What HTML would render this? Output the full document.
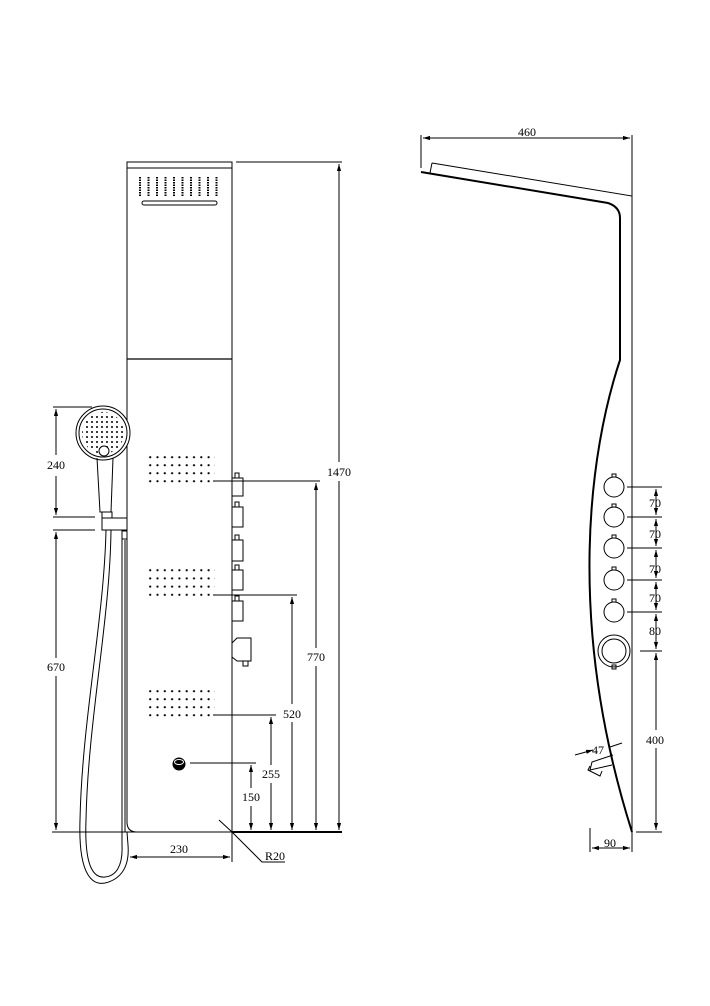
<!DOCTYPE html>
<html><head><meta charset="utf-8"><style>
html,body{margin:0;padding:0;background:#fff;}
svg{display:block}
text{font-family:"Liberation Serif",serif;font-size:12px;}
</style></head><body>
<svg width="710" height="1006" viewBox="0 0 710 1006" xmlns="http://www.w3.org/2000/svg">
<defs>
<marker id="a" viewBox="0 0 10 10" refX="10" refY="5" markerWidth="7" markerHeight="7" orient="auto-start-reverse"><path d="M0,2 L10,5 L0,8z" fill="#000"/></marker>
<pattern id="d1" x="149" y="456" width="7.3" height="8" patternUnits="userSpaceOnUse"><circle cx="1.2" cy="1.2" r="1.1" fill="#000"/></pattern>
<pattern id="d2" x="149" y="569" width="7.3" height="8.2" patternUnits="userSpaceOnUse"><circle cx="1.2" cy="1.2" r="1.1" fill="#000"/></pattern>
<pattern id="d3" x="149" y="690" width="7.3" height="8" patternUnits="userSpaceOnUse"><circle cx="1.2" cy="1.2" r="1.1" fill="#000"/></pattern>
<pattern id="d4" x="80" y="410" width="5" height="5" patternUnits="userSpaceOnUse"><circle cx="2" cy="2" r="1" fill="#000"/></pattern>
<clipPath id="hc"><circle cx="103" cy="433" r="21"/></clipPath>
</defs>
<rect x="149" y="456" width="66" height="30" fill="url(#d1)"/>
<rect x="149" y="569" width="66" height="30" fill="url(#d2)"/>
<rect x="149" y="690" width="66" height="30" fill="url(#d3)"/>
<g stroke="#000" fill="none" stroke-width="1">
<!-- panel front -->
<path d="M127,162 H232 V832 H137 Q127,832 127,822 Z"/>
<line x1="127" y1="168" x2="232" y2="168"/>
<line x1="127" y1="359" x2="232" y2="359" stroke-width="1.3"/>
<g stroke-width="2" stroke-dasharray="1.5,1">
<line x1="140" y1="177" x2="140" y2="196"/><line x1="148.5" y1="177" x2="148.5" y2="196"/><line x1="157" y1="177" x2="157" y2="196"/><line x1="165.5" y1="177" x2="165.5" y2="196"/><line x1="174" y1="177" x2="174" y2="196"/><line x1="182.5" y1="177" x2="182.5" y2="196"/><line x1="191" y1="177" x2="191" y2="196"/><line x1="199.5" y1="177" x2="199.5" y2="196"/><line x1="208" y1="177" x2="208" y2="196"/><line x1="216.5" y1="177" x2="216.5" y2="196"/>
</g>
<rect x="142" y="201" width="75" height="4" rx="2"/>
<!-- knobs -->
<rect x="232" y="478" width="11" height="18"/><rect x="235" y="473" width="4" height="5"/>
<rect x="232" y="507" width="11" height="20"/><rect x="235" y="502" width="4" height="5"/>
<rect x="232" y="540" width="11" height="21"/><rect x="235" y="535" width="4" height="5"/>
<rect x="232" y="570" width="11" height="20"/><rect x="235" y="565" width="4" height="5"/>
<rect x="232" y="601" width="11" height="20"/><rect x="235" y="596" width="4" height="5"/>
<path d="M232,643 L237,638 H251 V661 H237 L232,657"/><rect x="243" y="661" width="5" height="5"/>
<!-- drain -->
<circle cx="179" cy="764" r="6" fill="#000"/><ellipse cx="179" cy="762" rx="4.5" ry="2.5" stroke="#fff" stroke-width="1"/>
<!-- hand shower -->
<circle cx="103" cy="433" r="27" fill="#fff"/><circle cx="103" cy="433" r="24"/>
<rect x="80" y="410" width="46" height="46" fill="url(#d4)" stroke="none" clip-path="url(#hc)"/>
<circle cx="104" cy="451" r="5" fill="#fff"/>
<path d="M97,458 L100,512 H111 L113,458"/>
<rect x="102" y="512" width="10" height="6"/>
<rect x="102" y="518" width="25" height="12"/>
<rect x="122" y="531" width="5" height="8"/>
<path d="M106,530 C104,620 82,720 80,820 C78,880 95,885 105,883 C118,880 130,870 128,845 L127,832"/>
<path d="M111,530 C110,620 88,720 86,820 C84,872 96,878 105,877 C116,876 123,866 122,845 L122,539"/>
<line x1="125" y1="540" x2="125" y2="832"/>
<!-- left dims -->
<line x1="53" y1="407" x2="92" y2="407"/>
<line x1="53" y1="517" x2="95" y2="517"/>
<line x1="53" y1="530" x2="95" y2="530"/>
<line x1="56" y1="409" x2="56" y2="455" marker-start="url(#a)"/>
<line x1="56" y1="476" x2="56" y2="515" marker-end="url(#a)"/>
<line x1="56" y1="532" x2="56" y2="658" marker-start="url(#a)"/>
<line x1="56" y1="676" x2="56" y2="830" marker-end="url(#a)"/>
<line x1="52" y1="832" x2="342" y2="832"/>
<line x1="232" y1="832" x2="342" y2="832" stroke-width="2"/>
<!-- leaders right -->
<line x1="236" y1="162" x2="342" y2="162"/>
<line x1="339" y1="164" x2="339" y2="462" marker-start="url(#a)"/>
<line x1="339" y1="481" x2="339" y2="830" marker-end="url(#a)"/>
<line x1="213" y1="481" x2="320" y2="481"/>
<line x1="316" y1="483" x2="316" y2="648" marker-start="url(#a)"/>
<line x1="316" y1="666" x2="316" y2="830" marker-end="url(#a)"/>
<line x1="213" y1="595" x2="297" y2="595"/>
<line x1="292" y1="597" x2="292" y2="704" marker-start="url(#a)"/>
<line x1="292" y1="722" x2="292" y2="830" marker-end="url(#a)"/>
<line x1="213" y1="715" x2="276" y2="715"/>
<line x1="271" y1="717" x2="271" y2="765" marker-start="url(#a)"/>
<line x1="271" y1="783" x2="271" y2="830" marker-end="url(#a)"/>
<line x1="190" y1="763" x2="256" y2="763"/>
<line x1="251" y1="765" x2="251" y2="788" marker-start="url(#a)"/>
<line x1="251" y1="806" x2="251" y2="830" marker-end="url(#a)"/>
<line x1="232" y1="832" x2="232" y2="862"/>
<line x1="130" y1="857" x2="230" y2="857" marker-start="url(#a)" marker-end="url(#a)"/>
<path d="M219,820 L232,832 L262,862 H285" />
<!-- side view -->
<line x1="421" y1="135" x2="421" y2="168"/>
<line x1="632" y1="135" x2="632" y2="196"/>
<line x1="423" y1="138" x2="630" y2="138" marker-start="url(#a)" marker-end="url(#a)"/>
<path d="M432,163 L632,196 V832"/>
<path d="M432,163 L430,173"/>
<path d="M421,172 L608,203 Q620,207 620,218 V360 C590,450 565,620 632,832" stroke-width="2"/>
<g>
<circle cx="614" cy="487" r="10"/><rect x="612" y="474" width="4" height="3"/>
<circle cx="614" cy="517" r="10"/><rect x="612" y="504" width="4" height="3"/>
<circle cx="614" cy="548" r="10"/><rect x="612" y="535" width="4" height="3"/>
<circle cx="614" cy="580" r="10"/><rect x="612" y="567" width="4" height="3"/>
<circle cx="614" cy="612" r="10"/><rect x="612" y="599" width="4" height="3"/>
<circle cx="614" cy="651" r="16"/><circle cx="614" cy="651" r="12"/><rect x="612" y="665" width="4" height="4"/>
</g>
<line x1="627" y1="487" x2="662" y2="487"/>
<line x1="627" y1="517" x2="662" y2="517"/>
<line x1="627" y1="548" x2="662" y2="548"/>
<line x1="627" y1="580" x2="662" y2="580"/>
<line x1="627" y1="612" x2="662" y2="612"/>
<line x1="640" y1="651" x2="662" y2="651"/>
<line x1="636" y1="832" x2="662" y2="832"/>
<line x1="656" y1="489" x2="656" y2="515" marker-start="url(#a)" marker-end="url(#a)"/>
<line x1="656" y1="519" x2="656" y2="546" marker-start="url(#a)" marker-end="url(#a)"/>
<line x1="656" y1="550" x2="656" y2="578" marker-start="url(#a)" marker-end="url(#a)"/>
<line x1="656" y1="582" x2="656" y2="610" marker-start="url(#a)" marker-end="url(#a)"/>
<line x1="656" y1="614" x2="656" y2="649" marker-start="url(#a)" marker-end="url(#a)"/>
<line x1="656" y1="653" x2="656" y2="730" marker-start="url(#a)"/>
<line x1="656" y1="748" x2="656" y2="830" marker-end="url(#a)"/>
<line x1="590" y1="828" x2="590" y2="852"/>
<line x1="632" y1="832" x2="632" y2="852"/>
<line x1="592" y1="848" x2="630" y2="848" marker-start="url(#a)" marker-end="url(#a)"/>
<line x1="575" y1="755" x2="593" y2="750" marker-end="url(#a)"/>
<line x1="622" y1="743" x2="610" y2="747"/>
<path d="M613,755 L592,762 L590,770 L612,765"/>
<path d="M590,766 L588,770 L600,776 L602,771"/>
</g>
<g fill="#000" text-anchor="middle">
<text x="56" y="469">240</text>
<text x="56" y="671">670</text>
<text x="339" y="476">1470</text>
<text x="316" y="661">770</text>
<text x="292" y="718">520</text>
<text x="271" y="778">255</text>
<text x="251" y="801">150</text>
<text x="179" y="853">230</text>
<text x="275" y="860">R20</text>
<text x="527" y="136">460</text>
<text x="655" y="507">70</text>
<text x="655" y="538">70</text>
<text x="655" y="573">70</text>
<text x="655" y="602">70</text>
<text x="655" y="635">80</text>
<text x="655" y="744">400</text>
<text x="610" y="847">90</text>
<text x="598" y="754">47</text>
</g>
</svg>
</body></html>
